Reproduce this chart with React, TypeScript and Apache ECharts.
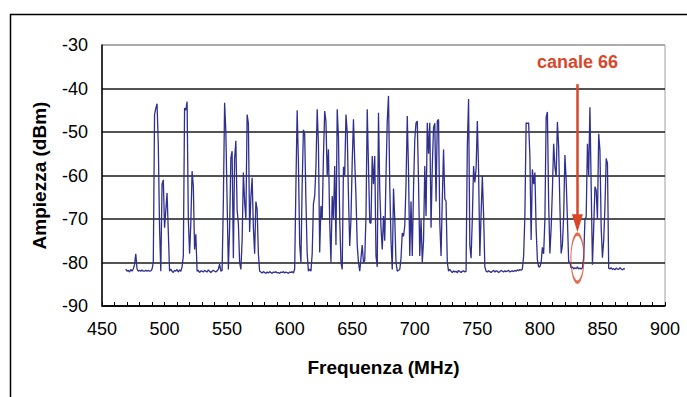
import React, { useEffect, useRef } from "react";
import * as echarts from "echarts";

// Spectrum sampled on a 1 MHz grid starting at FREQ_START (MHz), amplitudes in dBm
const FREQ_START = 469;
// 469 – 568 MHz
const band1 = [
  -81.5, -82, -81.8, -82.2, -81.6, -82, -81.5, -80.5, -78, -81.5,
  -82, -81.8, -82, -81.7, -82, -82, -81.8, -82, -81.8, -82,
  -81.9, -81.5, -80, -46, -44.5, -43.5, -53, -72, -82, -62,
  -61, -72, -68, -64, -73, -82, -81.5, -82, -82.3, -81.8,
  -82, -81.6, -82.2, -81.7, -82, -81, -78.5, -44.5, -45, -43,
  -70, -78, -71, -59, -62.5, -77, -73.5, -82, -81.8, -82.3,
  -81.9, -82, -82.2, -81.8, -82, -82.2, -81.7, -82, -82.3, -82,
  -81.8, -82, -82.2, -81.9, -81.5, -80.4, -82, -81.8, -66, -43.3,
  -50, -66, -81.6, -72, -56, -54.4, -79, -56, -52, -68,
  -71, -80, -81.6, -75, -59.3, -66, -70, -46, -48, -73,
];
// 569 – 668 MHz
const band2 = [
  -65, -60.5, -72, -78, -66, -67.8, -78, -82, -82.2, -82.4,
  -82.1, -82.3, -82.5, -82.2, -82.4, -82.1, -82.3, -82.5, -82.2, -82.3,
  -82.1, -82.4, -82.3, -82.5, -82.2, -82.3, -82.1, -82.4, -82.2, -82.3,
  -82.5, -82.2, -82.3, -82.1, -82.4, -81.5, -62, -45, -57, -75.8,
  -80, -62, -49.5, -50.5, -66, -78, -82, -81.5, -82, -78,
  -66.5, -64.7, -58, -44.8, -53, -77.7, -67, -70, -55.6, -45.2,
  -47.5, -60, -54, -70.8, -80, -64.7, -70, -57.8, -76, -44.8,
  -51.3, -70, -80, -81.6, -58, -60, -46, -50, -64.7, -76.2,
  -70, -56.7, -47.1, -56.7, -64.7, -76, -80, -82, -79, -76,
  -80, -79.5, -69.3, -44.8, -57.8, -70.8, -71, -55.5, -62, -55.5,
];
// 669 – 768 MHz
const band3 = [
  -78.5, -81, -45.6, -63.2, -72, -77, -69.3, -75, -60, -47.5,
  -41.7, -62.4, -75, -81.6, -63, -70, -80, -82, -81.8, -81.6,
  -79, -73.2, -74, -71.5, -62, -46.3, -59, -78.5, -66, -78.5,
  -63, -51.7, -47.9, -47.5, -61.6, -78.5, -70, -80, -75, -57.8,
  -69.3, -47.9, -55, -47.9, -72, -57.8, -49, -48, -66, -47.5,
  -47.1, -71, -78.5, -65.4, -54, -65.4, -65.9, -80, -82, -81.6,
  -82, -82.3, -81.9, -82.2, -82, -82.4, -81.8, -82.1, -82.3, -82,
  -81.9, -82.2, -82, -53.2, -42.4, -76, -79, -70, -57.8, -61.6,
  -58.5, -47.5, -58.9, -78.5, -69, -60.1, -69, -81, -82, -82.2,
  -81.9, -82.1, -82.3, -82, -81.8, -82.2, -81.9, -82, -82.3, -82.1,
];
// 769 – 868 MHz
const band4 = [
  -81.8, -82, -82.2, -81.9, -82.1, -82, -81.8, -82.2, -82, -81.9,
  -82.1, -81.8, -82, -81.7, -81.9, -81.6, -81.8, -81.5, -78.5, -69.3,
  -47.9, -48, -47.9, -55.6, -74.8, -58.6, -62, -59.3, -72.3, -79.4,
  -81, -81, -80, -76.5, -78, -70.2, -46.6, -45.4, -66.4, -77.9,
  -72, -63.4, -52.7, -58, -60.3, -47.7, -53.4, -67.2, -77.9, -76,
  -69.2, -55.3, -61, -70.2, -79.8, -80, -81.3, -81, -81.5, -81.2,
  -81.4, -81, -81.5, -81.3, -81.5, -81.2, -79, -70.2, -69.5, -52.7,
  -60, -44.3, -62.6, -80.5, -72.1, -62.6, -63.4, -70, -50.4, -54.2,
  -72.1, -78.9, -75, -67.2, -56.1, -57.2, -81.3, -81.5, -81.2, -81.6,
  -81.4, -81.7, -81.3, -81.5, -81.6, -81.2, -81.5, -81.7, -81.4, -81.5,
];

const X_MIN = 450;
const X_MAX = 900;
const X_STEP = 50;
const Y_MIN = -90;
const Y_MAX = -30;
const Y_STEP = 10;

const ANNOTATION_TEXT = "canale 66";
const CHANNEL_66_FREQ = 830;
const ARROW_FROM = -39;
const ARROW_TO = -71;
const LABEL_LEVEL = -34;
const ELLIPSE_LEVEL = -79;

const FONT = "'Liberation Sans Narrow', 'Liberation Sans', Arial, sans-serif";
const TRACE = "#2f2f8e";
const RED = "#d9472b";

export default function App() {
  const ref = useRef<HTMLDivElement>(null);
  useEffect(() => {
    const chart = echarts.init(ref.current!, null, { renderer: "svg" });
    const amps = [...band1, ...band2, ...band3, ...band4];
    const data = amps.map((v, i) => [FREQ_START + i, v]);
    chart.setOption({
      animation: false,
      backgroundColor: "#fff",
      textStyle: { fontFamily: FONT },
      grid: {
        left: 102,
        top: 45,
        width: 563,
        height: 261,
        show: true,
        borderColor: "#a0a0a0",
        borderWidth: 1,
        backgroundColor: "transparent",
      },
      xAxis: {
        type: "value",
        min: X_MIN,
        max: X_MAX,
        interval: X_STEP,
        name: "Frequenza (MHz)",
        nameLocation: "middle",
        nameGap: 52,
        nameTextStyle: { fontFamily: FONT, fontSize: 19, fontWeight: "bold", color: "#000" },
        axisLine: { lineStyle: { color: "#000", width: 1.5 } },
        axisTick: { show: true, inside: true, length: 4, lineStyle: { color: "#000" } },
        minorTick: { show: true, splitNumber: 5, length: 4, lineStyle: { color: "#000" } },
        axisLabel: { color: "#000", fontSize: 18, margin: 14, fontFamily: FONT },
        splitLine: { show: false },
      },
      yAxis: {
        type: "value",
        min: Y_MIN,
        max: Y_MAX,
        interval: Y_STEP,
        name: "Ampiezza (dBm)",
        nameLocation: "middle",
        nameRotate: 90,
        nameGap: 53,
        nameTextStyle: { fontFamily: FONT, fontSize: 19, fontWeight: "bold", color: "#000" },
        axisLine: { show: true, lineStyle: { color: "#000", width: 1.5 } },
        axisTick: { show: false },
        axisLabel: { color: "#000", fontSize: 18, margin: 14, fontFamily: FONT },
        splitLine: {
          show: true,
          lineStyle: {
            color: ["#000", "#1a1a1a", "#1a1a1a", "#1a1a1a", "#1a1a1a", "#1a1a1a", "#a0a0a0"],
            width: 1.5,
          },
        },
      },
      graphic: [
        {
          type: "rect",
          left: 8,
          top: 12,
          shape: { x: 0, y: 0, width: 720, height: 420 },
          style: { fill: "none", stroke: "#000", lineWidth: 1.5 },
          silent: true,
        },
      ],
      series: [
        {
          type: "line",
          data,
          showSymbol: false,
          symbol: "none",
          lineStyle: { color: TRACE, width: 1.3 },
          z: 3,
          markLine: {
            silent: true,
            symbol: ["none", "triangle"],
            symbolSize: [11, 18],
            lineStyle: { color: RED, width: 2.5, type: "solid" },
            itemStyle: { color: RED },
            label: { show: false },
            data: [[{ coord: [CHANNEL_66_FREQ, ARROW_FROM] }, { coord: [CHANNEL_66_FREQ, ARROW_TO] }]],
          },
          markPoint: {
            silent: true,
            symbol: "circle",
            symbolSize: 1,
            itemStyle: { color: "transparent" },
            label: {
              show: true,
              position: "inside",
              formatter: ANNOTATION_TEXT,
              color: RED,
              fontSize: 18,
              fontWeight: "bold",
              fontFamily: FONT,
            },
            data: [{ coord: [CHANNEL_66_FREQ, LABEL_LEVEL] }],
          },
        },
        {
          type: "scatter",
          data: [[CHANNEL_66_FREQ, ELLIPSE_LEVEL]],
          symbol: "circle",
          symbolSize: [13, 48],
          silent: true,
          z: 4,
          itemStyle: { color: "rgba(0,0,0,0)", borderColor: RED, borderWidth: 2 },
        },
      ],
    });
    return () => chart.dispose();
  }, []);
  return (
    <div
      ref={ref}
      style={{ position: "absolute", left: 0, top: 0, width: 687, height: 397, background: "#fff" }}
    />
  );
}
